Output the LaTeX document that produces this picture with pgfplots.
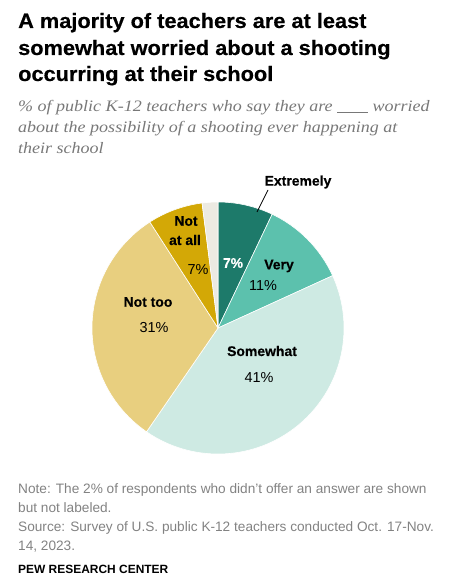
\documentclass[border=0pt]{standalone}
\usepackage{pgfplots}
\pgfplotsset{compat=1.18}
\usepackage{fontspec}
\setmainfont{Liberation Sans}
\newfontfamily\subfont[FakeStretch=1.13]{Liberation Serif}
\newfontfamily\titlefont[FakeStretch=1.05,FakeBold=0.4]{Liberation Sans}
\newfontfamily\labfont[FakeBold=0.3]{Liberation Sans}
\definecolor{cExt}{RGB}{29,122,106}
\definecolor{cVery}{RGB}{92,193,173}
\definecolor{cSome}{RGB}{206,234,227}
\definecolor{cNotToo}{RGB}{232,207,127}
\definecolor{cNotAll}{RGB}{211,168,6}
\definecolor{cNA}{RGB}{236,234,226}
\definecolor{subgray}{RGB}{120,120,120}
\definecolor{notegray}{RGB}{130,130,130}
% shares (percent): Extremely, Very, Somewhat, Not too, Not at all, no answer
\def\vA{7}\def\vB{11}\def\vC{41}\def\vD{31}\def\vE{7}\def\vF{2}
\pgfmathsetmacro\S{\vA+\vB+\vC+\vD+\vE+\vF}
\pgfmathsetmacro\aZ{90}
\pgfmathsetmacro\aA{90-\vA*360/\S}
\pgfmathsetmacro\aB{\aA-\vB*360/\S}
\pgfmathsetmacro\aC{\aB-\vC*360/\S}
\pgfmathsetmacro\aD{\aC-\vD*360/\S}
\pgfmathsetmacro\aE{\aD-\vE*360/\S}
\pgfmathsetmacro\aF{\aE-\vF*360/\S}
\begin{document}
\begin{tikzpicture}[x=1bp,y=1bp]
\useasboundingbox (0,0) rectangle (459,-585);
% title
\tikzset{tt/.style={anchor=base west,inner sep=0pt,font=\fontsize{20.8}{26}\selectfont\titlefont\bfseries}}
\node[tt] at (18,-28) {A majority of teachers are at least};
\node[tt] at (18,-55) {somewhat worried about a shooting};
\node[tt] at (18,-81) {occurring at their school};
% subtitle
\tikzset{st/.style={anchor=base west,inner sep=0pt,text=subgray,font=\fontsize{16}{21}\selectfont\subfont\itshape}}
\node[st] at (18,-112) {\% of public K-12 teachers who say they are \rule[-1pt]{31bp}{0.6pt} worried};
\node[st] at (18,-133) {about the possibility of a shooting ever happening at};
\node[st] at (18,-154) {their school};
% pie
\begin{axis}[at={(218bp,-328bp)},anchor=center,scale only axis,width=252bp,height=252bp,
  xmin=-1,xmax=1,ymin=-1,ymax=1,hide axis,clip=false]
\addplot[fill=cExt,draw=white,line width=0.6pt,domain=\aA:\aZ,samples=40,variable=\t] ({cos(\t)},{sin(\t)}) -- (axis cs:0,0) -- cycle;
\addplot[fill=cVery,draw=white,line width=0.6pt,domain=\aB:\aA,samples=40,variable=\t] ({cos(\t)},{sin(\t)}) -- (axis cs:0,0) -- cycle;
\addplot[fill=cSome,draw=white,line width=0.6pt,domain=\aC:\aB,samples=120,variable=\t] ({cos(\t)},{sin(\t)}) -- (axis cs:0,0) -- cycle;
\addplot[fill=cNotToo,draw=white,line width=0.6pt,domain=\aD:\aC,samples=100,variable=\t] ({cos(\t)},{sin(\t)}) -- (axis cs:0,0) -- cycle;
\addplot[fill=cNotAll,draw=white,line width=0.6pt,domain=\aE:\aD,samples=40,variable=\t] ({cos(\t)},{sin(\t)}) -- (axis cs:0,0) -- cycle;
\addplot[fill=cNA,draw=white,line width=0.6pt,domain=\aF:\aE,samples=20,variable=\t] ({cos(\t)},{sin(\t)}) -- (axis cs:0,0) -- cycle;
\end{axis}
% slice labels
\tikzset{lb/.style={font=\fontsize{14}{17}\selectfont\labfont\bfseries,inner sep=0pt},
         pc/.style={font=\fontsize{14.5}{17}\selectfont,inner sep=0pt}}
\node[lb] at (298,-182) {Extremely};
\draw[line width=0.7pt] (257,-212) -- (268,-190);
\node[lb,text=white] at (233,-263) {7\%};
\node[lb] at (279,-266) {Very};
\node[pc] at (263,-286) {11\%};
\node[lb] at (262,-351) {Somewhat};
\node[pc] at (259,-378) {41\%};
\node[lb] at (148,-302) {Not too};
\node[pc] at (154,-328) {31\%};
\node[lb] at (186,-221) {Not};
\node[lb] at (185,-240) {at all};
\node[pc] at (198,-270) {7\%};
% notes
\tikzset{nt/.style={anchor=base west,inner sep=0pt,text=notegray,font=\fontsize{13.7}{19}\selectfont}}
\node[nt] at (18,-493) {Note: The 2\% of respondents who didn't offer an answer are shown};
\node[nt] at (18,-512) {but not labeled.};
\node[nt] at (18,-531) {Source: Survey of U.S. public K-12 teachers conducted Oct. 17-Nov.};
\node[nt] at (18,-550) {14, 2023.};
\node[anchor=base west,inner sep=0pt,font=\fontsize{12}{15}\selectfont\bfseries] at (18,-573) {PEW RESEARCH CENTER};
\end{tikzpicture}
\end{document}
